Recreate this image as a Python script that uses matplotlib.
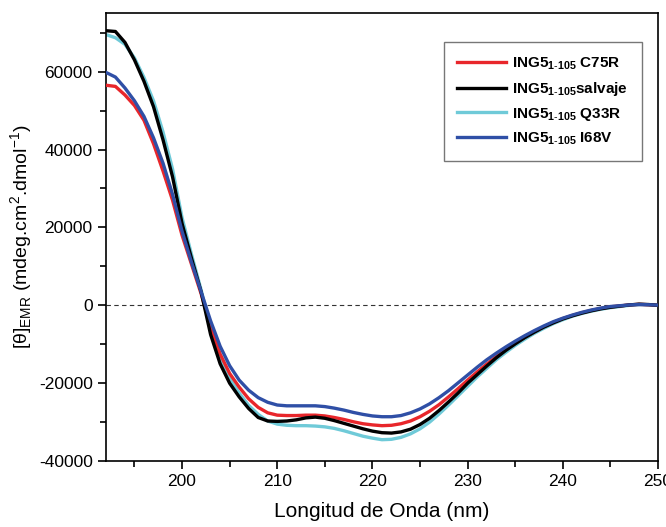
import matplotlib
matplotlib.use("Agg")
import matplotlib.pyplot as plt
from matplotlib.ticker import MultipleLocator

plt.rcParams['font.family'] = ['Liberation Sans', 'DejaVu Sans']
plt.rcParams['mathtext.fontset'] = 'custom'
plt.rcParams['mathtext.rm'] = 'Liberation Sans'
plt.rcParams['mathtext.bf'] = 'Liberation Sans:bold'
plt.rcParams['axes.unicode_minus'] = False

wavelength = list(range(192, 251))

c75r = [56500, 56200, 54000, 51300, 47500, 41500, 34500, 27000, 18000, 10500,
        3000, -5500, -12500, -17500, -21000, -24000, -26200, -27600, -28200, -28300,
        -28300, -28200, -28200, -28400, -28800, -29300, -29900, -30400, -30700, -30900,
        -30800, -30400, -29700, -28600, -27200, -25500, -23500, -21400, -19200, -17100,
        -15100, -13200, -11400, -9700, -8200, -6800, -5500, -4400, -3400, -2600,
        -1900, -1300, -800, -400, -150, 100, 250, 150, 0]

salvaje = [70500, 70300, 67500, 63000, 57500, 51000, 42500, 33000, 21000, 12000,
           3500, -7500, -15000, -20000, -23500, -26500, -28800, -29700, -29800, -29700,
           -29400, -28900, -28700, -29000, -29600, -30300, -31000, -31700, -32300, -32700,
           -32800, -32500, -31800, -30600, -29000, -27000, -24800, -22500, -20000, -17800,
           -15600, -13500, -11600, -9900, -8300, -6900, -5600, -4500, -3500, -2700,
           -2000, -1400, -900, -500, -200, 100, 300, 200, 0]

q33r = [69500, 68700, 67000, 63500, 58500, 52500, 44500, 35000, 22500, 13000,
        4000, -6000, -13500, -18800, -22500, -25700, -28000, -29700, -30500, -30800,
        -30900, -30900, -31000, -31200, -31600, -32200, -32900, -33600, -34100, -34500,
        -34400, -33900, -33000, -31700, -30000, -27900, -25600, -23200, -20800, -18400,
        -16200, -14000, -12100, -10300, -8700, -7200, -5900, -4700, -3700, -2800,
        -2100, -1500, -1000, -600, -300, 0, 200, 150, 0]

i68v = [59800, 58600, 55800, 52500, 48500, 43000, 36500, 28500, 19000, 11000,
        3500, -4000, -10500, -15500, -19200, -21800, -23700, -24900, -25600, -25800,
        -25800, -25800, -25800, -26000, -26400, -26900, -27500, -28000, -28400, -28600,
        -28600, -28300, -27600, -26600, -25300, -23700, -21900, -19900, -17900, -15900,
        -14000, -12300, -10700, -9200, -7800, -6500, -5300, -4200, -3300, -2500,
        -1800, -1200, -700, -300, -100, 100, 200, 150, 50]

labels = [r"ING5$_{\mathbf{1\text{-}105}}$ C75R",
          r"ING5$_{\mathbf{1\text{-}105}}$salvaje",
          r"ING5$_{\mathbf{1\text{-}105}}$ Q33R",
          r"ING5$_{\mathbf{1\text{-}105}}$ I68V"]
colors = ["#e8262b", "#000000", "#6fcad8", "#2f4fa6"]

fig = plt.figure(figsize=(6.66, 5.27), dpi=100)
ax = fig.add_axes([0.159, 0.125, 0.829, 0.850])

ax.axhline(0, color="#333333", lw=0.8, ls=(0, (4, 3)), zorder=1)

l1, = ax.plot(wavelength, c75r, color=colors[0], lw=2.4, zorder=3)
l3, = ax.plot(wavelength, q33r, color=colors[2], lw=2.4, zorder=2)
l2, = ax.plot(wavelength, salvaje, color=colors[1], lw=2.4, zorder=4)
l4, = ax.plot(wavelength, i68v, color=colors[3], lw=2.4, zorder=5)

ax.set_xlim(192, 250)
ax.set_ylim(-40000, 75000)
ax.xaxis.set_major_locator(MultipleLocator(10))
ax.xaxis.set_minor_locator(MultipleLocator(5))
ax.yaxis.set_major_locator(MultipleLocator(20000))
ax.yaxis.set_minor_locator(MultipleLocator(10000))
ax.tick_params(which='both', direction='out', labelsize=12.5, width=1.2)
ax.tick_params(which='major', length=6)
ax.tick_params(which='minor', length=4)
for s in ax.spines.values():
    s.set_linewidth(1.2)

ax.set_xlabel("Longitud de Onda (nm)", fontsize=15, labelpad=9)
ax.set_ylabel(r"[θ]$_{\mathrm{EMR}}$ (mdeg.cm$^{\mathrm{2}}$.dmol$^{\mathrm{-1}}$)", fontsize=14, labelpad=3)

leg = ax.legend([l1, l2, l3, l4], labels, loc='upper right',
                bbox_to_anchor=(0.985, 0.953), fancybox=False, frameon=True,
                edgecolor="#555555", handlelength=3.2, handletextpad=0.4,
                borderpad=0.9, labelspacing=0.5,
                prop={'weight': 'bold', 'size': 11})
leg.get_frame().set_linewidth(1.0)

fig.savefig("out.png", dpi=100)
